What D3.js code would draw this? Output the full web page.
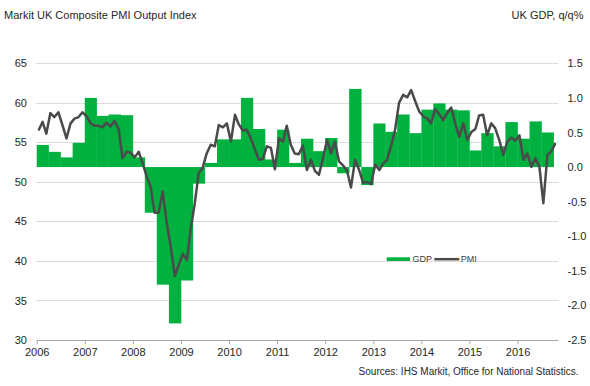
<!DOCTYPE html>
<html>
<head>
<meta charset="utf-8">
<script src="https://cdn.jsdelivr.net/npm/d3@7"></script>
<style>
    body { margin: 0; background: #fff; }
    svg { display: block; font-family: 'Liberation Sans', Arial, sans-serif; }
</style>
</head>
<body>
<div id="chart"></div>
<script>
// monthly PMI, Jan 2006 - Oct 2016
var pmi2006 = [56.5, 57.6, 56.1, 58.7, 58.2, 58.8, 57.2, 55.5, 57.4, 58.0, 58.2, 58.8];
var pmi2007 = [58.3, 57.4, 57.1, 57.1, 56.9, 57.5, 57.0, 57.7, 56.7, 53.0, 53.8, 53.7];
var pmi2008 = [53.1, 53.8, 52.4, 50.7, 49.4, 46.1, 46.1, 48.8, 44.8, 41.8, 38.1, 39.5];
var pmi2009 = [40.9, 40.1, 44.0, 47.2, 51.1, 51.8, 53.6, 54.7, 54.5, 57.2, 56.9, 57.4];
var pmi2010 = [55.1, 58.5, 57.3, 56.5, 56.6, 55.5, 54.2, 52.8, 52.9, 54.5, 54.3, 51.6];
var pmi2011 = [55.5, 55.1, 57.1, 54.7, 53.6, 53.5, 54.6, 51.5, 52.8, 51.4, 50.9, 53.0];
var pmi2012 = [55.3, 53.6, 55.1, 52.6, 52.1, 51.4, 49.3, 52.8, 51.5, 49.9, 50.0, 49.7];
var pmi2013 = [52.2, 51.5, 52.3, 52.8, 54.5, 56.6, 60.0, 61.0, 60.7, 61.6, 60.2, 58.9];
var pmi2014 = [58.3, 58.0, 57.4, 59.2, 58.6, 57.8, 58.7, 59.4, 57.4, 55.7, 57.4, 55.3];
var pmi2015 = [56.3, 56.7, 58.4, 58.5, 55.9, 57.4, 56.8, 55.3, 53.4, 55.1, 55.6, 55.2];
var pmi2016 = [55.9, 52.8, 53.6, 51.9, 53.0, 51.9, 47.3, 53.4, 53.9, 54.9];

// quarterly GDP q/q %, 2006 Q1 - 2016 Q3
var gdp = [
    0.32, 0.22, 0.14, 0.35,
    1.00, 0.74, 0.76, 0.75,
    0.14, -0.66, -1.70, -2.26,
    -1.64, -0.24, 0.06, 0.40,
    0.40, 1.00, 0.55, 0.11,
    0.54, 0.06, 0.41, 0.23,
    0.42, -0.09, 1.13, -0.26,
    0.63, 0.51, 0.76, 0.49,
    0.83, 0.92, 0.83, 0.82,
    0.24, 0.49, 0.30, 0.65,
    0.41, 0.66, 0.50
];

var years = [2006, 2007, 2008, 2009, 2010, 2011, 2012, 2013, 2014, 2015, 2016];
var leftTicks = [30, 35, 40, 45, 50, 55, 60, 65];
var rightTicks = [-2.5, -2.0, -1.5, -1.0, -0.5, 0.0, 0.5, 1.0, 1.5];

var pmi = [].concat(pmi2006, pmi2007, pmi2008, pmi2009, pmi2010, pmi2011,
    pmi2012, pmi2013, pmi2014, pmi2015, pmi2016);
var pmiData = pmi.map((v, i) => [new Date(2006, i, 15), v]);
var gdpData = gdp.map((v, i) => [new Date(2006, i * 3, 1), new Date(2006, i * 3 + 3, 1), v]);

var width = 590;
var height = 386;
var plot = { left: 36.7, right: 557.7, top: 63.3, bottom: 340 };

var x = d3.scaleTime()
    .domain([new Date(2006, 0, 1), new Date(2016, 10, 1)])
    .range([plot.left, plot.right]);
var yLeft = d3.scaleLinear().domain([30, 65]).range([plot.bottom, plot.top]);
var yRight = d3.scaleLinear().domain([-2.5, 1.5]).range([plot.bottom, plot.top]);

var green = '#00b140';
var lineColor = '#4a4a4a';
var textColor = '#262626';

var svg = d3.select('#chart')
    .append('svg')
    .attr('width', width)
    .attr('height', height);

// titles
svg.append('text')
    .attr('x', 4)
    .attr('y', 19)
    .style('font-size', '11px')
    .style('fill', textColor)
    .text('Markit UK Composite PMI Output Index');

svg.append('text')
    .attr('x', 583.5)
    .attr('y', 19)
    .attr('text-anchor', 'end')
    .style('font-size', '11px')
    .style('fill', textColor)
    .text('UK GDP, q/q%');

// gridlines
svg.append('g')
    .attr('class', 'grid')
    .selectAll('line')
    .data(leftTicks.filter(d => d > 30))
    .join('line')
    .attr('x1', plot.left)
    .attr('x2', plot.right)
    .attr('y1', d => Math.round(yLeft(d)) + 0.5)
    .attr('y2', d => Math.round(yLeft(d)) + 0.5)
    .attr('stroke', '#b8b8b8')
    .attr('stroke-width', 1)
    .attr('stroke-dasharray', '1,1');

// GDP bars
svg.append('g')
    .attr('class', 'bars')
    .selectAll('rect')
    .data(gdpData)
    .join('rect')
    .attr('x', d => x(d[0]))
    .attr('width', d => x(d[1]) - x(d[0]) + 0.3)
    .attr('y', d => yRight(Math.max(0, d[2])))
    .attr('height', d => Math.abs(yRight(d[2]) - yRight(0)))
    .attr('fill', green);

// x axis
var xAxis = d3.axisBottom(x)
    .tickValues(years.map(y => new Date(y, 0, 1)))
    .tickFormat(d3.timeFormat('%Y'))
    .tickSize(4)
    .tickSizeOuter(0);

var gx = svg.append('g')
    .attr('class', 'x-axis')
    .attr('transform', 'translate(0,' + plot.bottom + ')')
    .call(xAxis);
gx.select('.domain').attr('stroke', '#a6a6a6');
gx.selectAll('.tick line').attr('stroke', '#a6a6a6');
gx.selectAll('.tick text')
    .attr('dy', '0.71em')
    .attr('y', 8)
    .style('font-size', '11px')
    .style('font-family', 'Liberation Sans, Arial, sans-serif')
    .style('fill', textColor);

// left axis labels
var yAxisLeft = d3.axisLeft(yLeft).tickValues(leftTicks).tickSize(0);
var gl = svg.append('g')
    .attr('class', 'y-axis-left')
    .attr('transform', 'translate(27,0)')
    .call(yAxisLeft);
gl.select('.domain').remove();
gl.selectAll('.tick text')
    .attr('x', 0)
    .style('font-size', '11px')
    .style('font-family', 'Liberation Sans, Arial, sans-serif')
    .style('fill', textColor);

// right axis labels
var yAxisRight = d3.axisRight(yRight)
    .tickValues(rightTicks)
    .tickFormat(d => d.toFixed(1))
    .tickSize(0);
var gr = svg.append('g')
    .attr('class', 'y-axis-right')
    .attr('transform', 'translate(567.5,0)')
    .call(yAxisRight);
gr.select('.domain').remove();
gr.selectAll('.tick text')
    .attr('x', 0)
    .style('font-size', '11px')
    .style('font-family', 'Liberation Sans, Arial, sans-serif')
    .style('fill', textColor);

// PMI line
var pmiLine = d3.line()
    .x(d => x(d[0]))
    .y(d => yLeft(d[1]));

svg.append('path')
    .datum(pmiData)
    .attr('class', 'pmi-line')
    .attr('fill', 'none')
    .attr('stroke', lineColor)
    .attr('stroke-width', 2.5)
    .attr('stroke-linejoin', 'round')
    .attr('d', pmiLine);

// legend
var legend = svg.append('g').attr('class', 'legend');
legend.append('rect')
    .attr('x', 386.7)
    .attr('y', 257.3)
    .attr('width', 23.3)
    .attr('height', 3.7)
    .attr('fill', green);
legend.append('text')
    .attr('x', 412.5)
    .attr('y', 262.3)
    .style('font-size', '9px')
    .style('fill', '#404040')
    .text('GDP');
legend.append('line')
    .attr('x1', 434.3)
    .attr('x2', 459.3)
    .attr('y1', 259.2)
    .attr('y2', 259.2)
    .attr('stroke', lineColor)
    .attr('stroke-width', 2.5);
legend.append('text')
    .attr('x', 460.7)
    .attr('y', 262.3)
    .style('font-size', '9px')
    .style('fill', '#404040')
    .text('PMI');

// source
svg.append('text')
    .attr('x', 578.5)
    .attr('y', 375)
    .attr('text-anchor', 'end')
    .style('font-size', '10px')
    .style('fill', textColor)
    .text('Sources: IHS Markit, Office for National Statistics.');
</script>
</body>
</html>
